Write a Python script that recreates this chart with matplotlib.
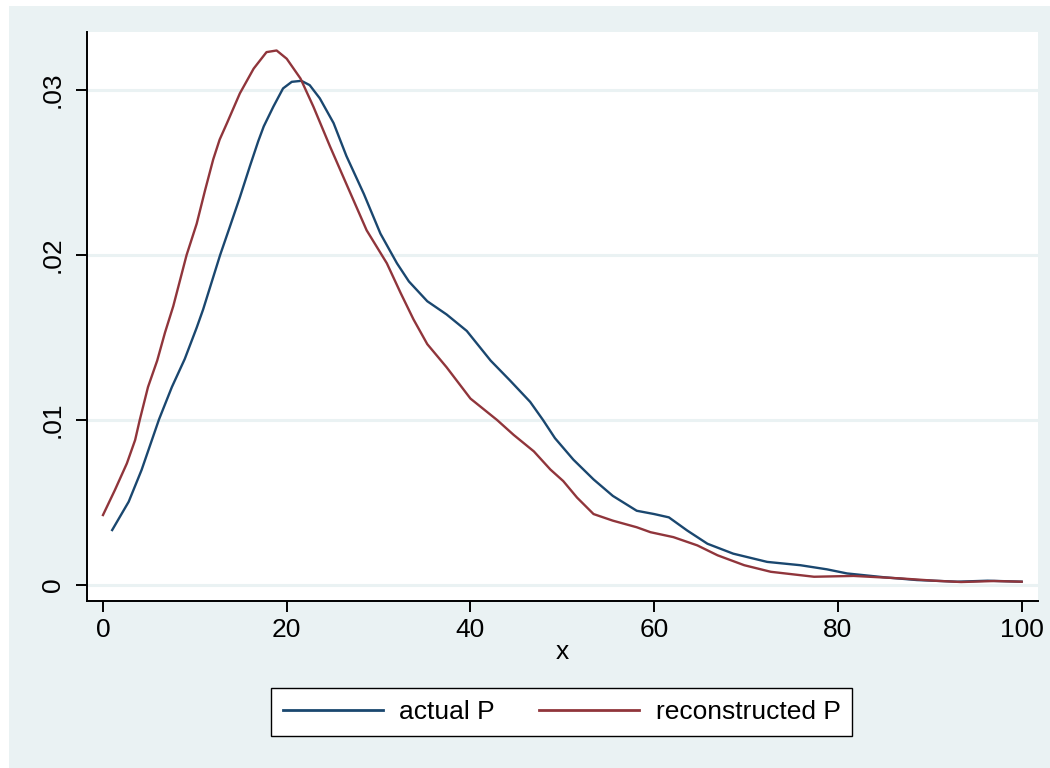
import matplotlib
matplotlib.use("Agg")
import matplotlib.pyplot as plt
from matplotlib.patches import Rectangle

# ---- data ----
actual_x = [1.0, 2.8, 4.2, 6.1, 7.5, 8.9, 10.2, 10.9, 12.75, 13.8, 14.9, 16.0,
            16.9, 17.5, 18.55, 19.6, 20.55, 21.6, 22.5, 23.6, 25.1, 26.5, 28.4,
            30.2, 32.0, 33.3, 35.3, 37.4, 39.6, 42.2, 44.3, 46.5, 47.9, 49.2,
            51.2, 53.4, 55.5, 58.1, 60.0, 61.6, 63.6, 65.8, 68.6, 72.3, 75.9,
            78.8, 81.0, 85.0, 88.6, 93.0, 96.3, 100.0]
actual_p = [0.00333, 0.00505, 0.00697, 0.01004, 0.0120, 0.0137, 0.0156, 0.0167,
            0.0200, 0.0217, 0.0235, 0.0254, 0.0269, 0.0278, 0.0290, 0.0301,
            0.0305, 0.03056, 0.0303, 0.0295, 0.0280, 0.0260, 0.0237, 0.0213,
            0.0195, 0.0184, 0.0172, 0.0164, 0.0154, 0.0136, 0.0124, 0.0111,
            0.0100, 0.0089, 0.0076, 0.0064, 0.0054, 0.0045, 0.0043, 0.0041,
            0.0033, 0.0025, 0.0019, 0.0014, 0.0012, 0.00095, 0.0007, 0.00047,
            0.0003, 0.0002, 0.00026, 0.0002]

recon_x = [0.0, 1.3, 2.6, 3.5, 4.0, 4.9, 5.9, 6.75, 7.65, 9.1, 10.2, 11.1, 12.0,
           12.7, 13.5, 14.9, 16.4, 17.8, 18.9, 20.0, 21.5, 22.9, 24.7, 26.5,
           28.7, 30.9, 32.4, 33.8, 35.3, 37.4, 40.0, 42.9, 44.7, 46.9, 48.7,
           50.1, 51.6, 53.4, 55.5, 58.1, 59.6, 62.1, 64.7, 66.9, 69.8, 72.7,
           77.4, 81.7, 86.8, 90.5, 93.4, 97.0, 100.0]
recon_p = [0.00424, 0.00576, 0.00737, 0.00879, 0.0100, 0.0120, 0.0136, 0.0153,
           0.0169, 0.0200, 0.0219, 0.0239, 0.0258, 0.0270, 0.0280, 0.0298,
           0.0313, 0.0323, 0.0324, 0.0319, 0.0307, 0.0290, 0.0266, 0.0243,
           0.0215, 0.0195, 0.0177, 0.0161, 0.0146, 0.0132, 0.0113, 0.0100,
           0.0091, 0.0081, 0.0070, 0.0063, 0.0053, 0.0043, 0.0039, 0.0035,
           0.0032, 0.0029, 0.0024, 0.0018, 0.0012, 0.0008, 0.0005, 0.00055,
           0.0004, 0.00026, 0.00018, 0.00024, 0.0002]

xticks = [0, 20, 40, 60, 80, 100]
yticks = [0, 0.01, 0.02, 0.03]
ytick_labels = ["0", ".01", ".02", ".03"]
series_labels = ["actual P", "reconstructed P"]

NAVY = "#1a476f"
MAROON = "#90353b"
BG = "#eaf2f3"
FS = 19

plt.rcParams['font.family'] = ['Liberation Sans', 'DejaVu Sans']

W, H = 1050, 768
fig = plt.figure(figsize=(W / 100, H / 100), dpi=100, facecolor='white')
fig.patches.append(Rectangle((9 / W, 0), 1 - 9 / W, (H - 6) / H,
                             transform=fig.transFigure, facecolor=BG,
                             edgecolor='none', zorder=-10))

ax = fig.add_axes([87 / W, (H - 601) / H, (1038 - 87) / W, (601 - 32) / H])
ax.set_facecolor('white')
ax.plot(actual_x, actual_p, color=NAVY, lw=1.7, label=series_labels[0],
        zorder=3, solid_joinstyle='round')
ax.plot(recon_x, recon_p, color=MAROON, lw=1.7, label=series_labels[1],
        zorder=3, solid_joinstyle='round')

ax.set_xlim(-1.74, 101.78)
ax.set_ylim(-0.00097, 0.03352)
ax.set_xticks(xticks)
ax.set_yticks(yticks, ytick_labels)
ax.tick_params(labelsize=FS, length=8, width=1.4, color='black')
ax.tick_params(axis='y', labelrotation=90, pad=8)
ax.tick_params(axis='x', pad=4)
for lab in ax.get_yticklabels():
    lab.set_va('center')
ax.grid(axis='y', color=BG, lw=2.2)
ax.set_axisbelow(True)
for s in ('top', 'right'):
    ax.spines[s].set_visible(False)
for s in ('left', 'bottom'):
    ax.spines[s].set_linewidth(1.4)
ax.set_xlabel('x', fontsize=FS, labelpad=-1.5)

leg = fig.legend(loc='center', bbox_to_anchor=(561.5 / W, 1 - 712 / H), ncol=2,
                 frameon=True, fancybox=False, edgecolor='black',
                 fontsize=FS, handlelength=3.79, handletextpad=0.64,
                 columnspacing=1.65, borderpad=0.45, framealpha=1)
leg.get_frame().set_linewidth(1.0)
for l in leg.get_lines():
    l.set_linewidth(2.0)

fig.savefig('out.png', dpi=100)
